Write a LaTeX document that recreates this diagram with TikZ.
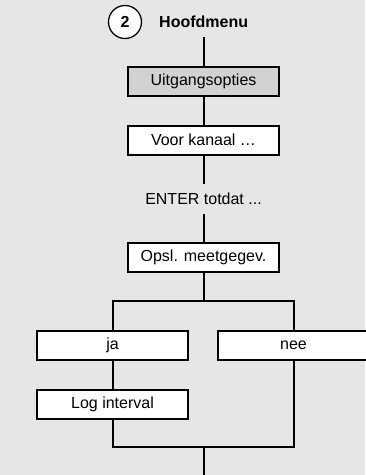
\documentclass[tikz,border=0pt]{standalone}
\usepackage{fontspec}
\setmainfont{Liberation Sans}
\definecolor{bg}{HTML}{E6E6E6}
\definecolor{boxgray}{HTML}{D2D2D2}
\begin{document}
\begin{tikzpicture}[x=1pt,y=-1pt,
  menubox/.style={draw=black,line width=2pt,fill=white,minimum width=151pt,minimum height=29pt,inner sep=0pt,font=\fontsize{16pt}{19pt}\selectfont},
  conn/.style={draw=black,line width=2pt},
  lbl/.style={font=\fontsize{16pt}{19pt}\selectfont,inner sep=0pt}]
\fill[bg] (0,0) rectangle (365,475);
\useasboundingbox (0,0) rectangle (365,475);
\node[draw=black,line width=1.3pt,fill=white,circle,minimum size=33pt,inner sep=0pt,font=\fontsize{16pt}{19pt}\selectfont\bfseries] (num) at (125,22) {2};
\node[lbl,anchor=west,font=\fontsize{16pt}{19pt}\selectfont\bfseries] (title) at (159,22) {Hoofdmenu};
\coordinate (top) at (203.5,37);
\node[menubox,fill=boxgray] (uit) at (203.5,81.5) {Uitgangsopties};
\node[menubox] (voor) at (203.5,140) {Voor kanaal …};
\node[lbl,minimum height=30pt] (enter) at (203.5,199) {ENTER totdat ...};
\node[menubox] (opsl) at (203.5,257.5) {Opsl. meetgegev.};
\coordinate (split) at (203.5,301);
\node[menubox] (ja) at (112.5,345.5) {ja};
\node[menubox] (nee) at (293.5,345.5) {nee};
\node[menubox] (log) at (112.5,404.5) {Log interval};
\coordinate (merge) at (203.5,447);
\coordinate (bot) at (203.5,476);
\draw[conn] (top) -- (uit.north);
\draw[conn] (uit) -- (voor);
\draw[conn] (voor) -- (enter);
\draw[conn] (enter) -- (opsl);
\draw[conn] (opsl) -- (split);
\draw[conn] (ja.north) -- (ja.north |- split) -- (nee.north |- split) -- (nee.north);
\draw[conn] (ja) -- (log);
\draw[conn] (log.south) |- (merge) -| (nee.south);
\draw[conn] (merge) -- (bot);
\end{tikzpicture}
\end{document}
